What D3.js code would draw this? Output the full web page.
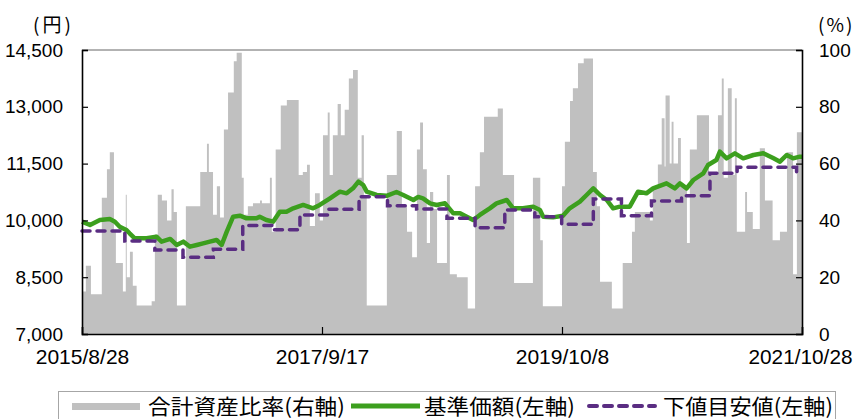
<!DOCTYPE html>
<html>
<head>
<meta charset="utf-8">
<script src="https://cdn.jsdelivr.net/npm/d3@7"></script>
<style>
  body { margin: 0; background: #fff; }
  svg { display: block; }
</style>
</head>
<body>
<div id="chart"></div>
<script>
// 合計資産比率 (%), step values: [date, value from that date]
const ratioSteps = [
  ["2015-08-28",15],["2015-09-09",24],["2015-09-25",14],["2015-10-29",48],["2015-11-14",58],["2015-11-23",64],
  ["2015-12-06",36],["2015-12-12",25],["2016-01-03",15],["2016-01-12",49],["2016-01-15",20],["2016-01-25",29],
  ["2016-02-03",17],["2016-02-15",10],["2016-04-02",11.5],["2016-04-12",35],["2016-04-21",49],["2016-05-04",47],
  ["2016-05-20",40],["2016-06-03",51],["2016-06-10",43],["2016-06-20",10],["2016-07-18",45],["2016-09-01",57],
  ["2016-09-22",67],["2016-09-28",57],["2016-10-11",42],["2016-10-23",52],["2016-11-02",41],["2016-11-14",72],
  ["2016-11-27",85],["2016-12-15",96],["2016-12-24",99],["2017-01-09",55],["2017-01-15",42],["2017-01-28",45],
  ["2017-02-13",46],["2017-03-07",47],["2017-03-13",46],["2017-04-07",55],["2017-04-13",36],["2017-04-25",65],
  ["2017-05-11",80.5],["2017-05-30",82.4],["2017-07-06",56],["2017-07-19",57],["2017-08-01",59.6],["2017-08-10",38],
  ["2017-08-26",49.6],["2017-09-10",40],["2017-09-20",70],["2017-10-05",78],["2017-10-11",56],["2017-10-21",70],
  ["2017-11-05",81],["2017-11-15",70],["2017-11-27",79],["2017-12-10",90],["2017-12-23",93],["2018-01-07",55],
  ["2018-01-19",70],["2018-01-26",48],["2018-02-04",10],["2018-04-08",56],["2018-05-09",71.5],["2018-05-25",45],
  ["2018-06-10",36],["2018-06-26",27],["2018-07-11",65],["2018-07-21",74.5],["2018-07-30",58],["2018-08-11",32],
  ["2018-08-21",50],["2018-08-31",44],["2018-09-12",25],["2018-10-13",56],["2018-10-22",21],["2018-11-13",20],
  ["2018-12-17",9],["2019-01-09",52],["2019-01-24",64],["2019-02-06",76.5],["2019-03-21",79.4],["2019-04-06",56],
  ["2019-05-11",18],["2019-07-09",55],["2019-08-01",33],["2019-08-09",9.8],["2019-10-08",52],["2019-10-17",67.7],
  ["2019-11-02",82],["2019-11-11",86.5],["2019-11-27",95.3],["2019-12-15",97],["2020-01-13",57],["2020-01-25",45],
  ["2020-02-04",18.4],["2020-03-12",9],["2020-04-15",25],["2020-05-14",36],["2020-05-23",43],["2020-07-09",40],
  ["2020-07-18",52],["2020-08-03",59.7],["2020-08-15",76],["2020-08-24",59],["2020-08-27",84],["2020-09-09",60],
  ["2020-09-15",74.7],["2020-09-21",60],["2020-10-05",69],["2020-10-14",52],["2020-11-02",32],["2020-11-11",65],
  ["2020-12-03",77],["2021-01-10",56],["2021-02-07",77],["2021-02-19",90],["2021-02-25",55],["2021-03-10",86.5],
  ["2021-03-22",56],["2021-04-01",83],["2021-04-07",36],["2021-05-03",50],["2021-05-09",43],["2021-05-27",37],
  ["2021-06-18",65.4],["2021-07-04",47],["2021-07-28",33],["2021-08-20",36],["2021-09-11",64],["2021-09-30",21],
  ["2021-10-12",71],["2021-10-28",71]
];

// 基準価額 (円)
const navPoints = [
  ["2015-08-28",9966],["2015-09-22",9879],["2015-10-23",10011],["2015-11-23",10037],["2015-12-09",9966],
  ["2015-12-24",9834],["2016-01-14",9747],["2016-01-24",9659],["2016-02-09",9527],["2016-03-17",9527],
  ["2016-04-17",9571],["2016-05-03",9439],["2016-05-30",9510],["2016-06-19",9351],["2016-07-10",9439],
  ["2016-07-31",9306],["2016-08-21",9351],["2016-09-10",9395],["2016-10-01",9439],["2016-10-22",9483],
  ["2016-11-07",9351],["2016-11-23",9703],["2016-12-13",10099],["2017-01-03",10124],["2017-01-24",10055],
  ["2017-02-24",10055],["2017-03-06",10099],["2017-03-27",10011],["2017-04-17",9966],["2017-05-08",10230],
  ["2017-05-29",10230],["2017-06-19",10319],["2017-07-20",10407],["2017-08-20",10319],["2017-09-10",10407],
  ["2017-10-12",10583],["2017-11-12",10759],["2017-12-03",10715],["2017-12-23",10847],["2018-01-09",11023],
  ["2018-01-24",10935],["2018-02-04",10759],["2018-03-07",10671],["2018-04-07",10650],["2018-05-08",10750],
  ["2018-05-29",10671],["2018-06-30",10539],["2018-07-15",10620],["2018-07-30",10583],["2018-08-21",10451],
  ["2018-09-11",10407],["2018-10-07",10451],["2018-11-02",10187],["2018-11-23",10187],["2018-12-14",10099],
  ["2019-01-03",10011],["2019-01-24",10143],["2019-02-24",10319],["2019-03-17",10451],["2019-04-18",10539],
  ["2019-05-08",10319],["2019-06-08",10319],["2019-07-10",10363],["2019-07-31",10275],["2019-08-10",10099],
  ["2019-09-10",10080],["2019-10-11",10124],["2019-11-01",10319],["2019-12-03",10495],["2019-12-24",10671],
  ["2020-01-14",10847],["2020-02-04",10671],["2020-02-25",10539],["2020-03-16",10319],["2020-04-06",10363],
  ["2020-05-07",10363],["2020-06-02",10759],["2020-06-28",10715],["2020-07-19",10847],["2020-08-30",10979],
  ["2020-09-25",10847],["2020-10-11",10979],["2020-11-01",10847],["2020-11-22",11067],["2020-12-23",11243],
  ["2021-01-07",11463],["2021-02-02",11595],["2021-02-13",11815],["2021-03-06",11639],["2021-04-01",11771],
  ["2021-04-27",11639],["2021-05-29",11727],["2021-06-29",11771],["2021-07-31",11639],["2021-08-20",11551],
  ["2021-09-10",11727],["2021-09-30",11639],["2021-10-21",11683],["2021-10-28",11683]
];

// 下値目安値 (円), step values
const floorSteps = [
  ["2015-08-28",9720],["2016-01-09",9456],["2016-04-12",9218],["2016-07-09",9025],["2016-10-12",9237],
  ["2017-01-12",9866],["2017-04-13",9750],["2017-07-10",10143],["2017-10-06",10293],["2018-01-11",10627],
  ["2018-04-10",10389],["2018-07-10",10300],["2018-10-13",10055],["2019-01-09",9808],["2019-04-12",10275],
  ["2019-07-15",10099],["2019-10-07",9897],["2020-01-14",10565],["2020-04-11",10125],["2020-07-14",10513],
  ["2020-10-16",10653],["2021-01-13",11243],["2021-04-08",11402],["2021-10-11",11270],["2021-10-28",11270]
];

const yenTicks = [7000, 8500, 10000, 11500, 13000, 14500];
const pctTicks = [0, 20, 40, 60, 80, 100];
const dateTicks = ["2015-08-28", "2017-09-17", "2019-10-08", "2021-10-28"];
const seriesNames = ["合計資産比率(右軸)", "基準価額(左軸)", "下値目安値(左軸)"];

const W = 856, H = 419;
const plot = { left: 82, right: 802, top: 50, bottom: 334 };
const parse = d3.timeParse("%Y-%m-%d");
const fmtDate = d3.timeFormat("%Y/%-m/%-d");

const x = d3.scaleTime()
  .domain([parse(dateTicks[0]), parse(dateTicks[dateTicks.length - 1])])
  .range([plot.left, plot.right]);
const yYen = d3.scaleLinear().domain([7000, 14500]).range([plot.bottom, plot.top]);
const yPct = d3.scaleLinear().domain([0, 100]).range([plot.bottom, plot.top]);

const svg = d3.select("#chart").append("svg").attr("width", W).attr("height", H);

// gray area (right axis)
const area = d3.area()
  .curve(d3.curveStepAfter)
  .x(d => x(parse(d[0])))
  .y0(yPct(0))
  .y1(d => yPct(d[1]));
svg.append("path").datum(ratioSteps)
  .attr("d", area)
  .attr("fill", "#c0c0c0");

// NAV line
const navLine = d3.line().x(d => x(parse(d[0]))).y(d => yYen(d[1]));
svg.append("path").datum(navPoints)
  .attr("d", navLine)
  .attr("fill", "none")
  .attr("stroke", "#3c9f1e")
  .attr("stroke-width", 4.5)
  .attr("stroke-linejoin", "round");

// floor step line
const floorLine = d3.line().curve(d3.curveStepAfter).x(d => x(parse(d[0]))).y(d => yYen(d[1]));
svg.append("path").datum(floorSteps)
  .attr("d", floorLine)
  .attr("fill", "none")
  .attr("stroke", "#5a2d82")
  .attr("stroke-width", 3.5)
  .attr("stroke-dasharray", "8,7")
  .attr("stroke-linecap", "round");

// frame
svg.append("line").attr("x1", plot.left).attr("x2", plot.right).attr("y1", plot.top).attr("y2", plot.top)
  .attr("stroke", "#666").attr("stroke-width", 1);

// axes
const axisFont = "'Liberation Sans', Arial, sans-serif";

const gL = svg.append("g").attr("transform", `translate(${plot.left},0)`)
  .call(d3.axisLeft(yYen).tickValues(yenTicks).tickSize(-6).tickPadding(19).tickFormat(d3.format(",")));
const gR = svg.append("g").attr("transform", `translate(${plot.right},0)`)
  .call(d3.axisRight(yPct).tickValues(pctTicks).tickSize(-6).tickPadding(17));
const gB = svg.append("g").attr("transform", `translate(0,${plot.bottom})`)
  .call(d3.axisBottom(x).tickValues(dateTicks.map(parse)).tickSize(-7).tickPadding(15).tickFormat(fmtDate));

[gL, gR, gB].forEach(g => {
  g.select(".domain").attr("stroke", "#000").attr("stroke-width", 1.6);
  g.selectAll(".tick line").attr("stroke", "#000").attr("stroke-width", 1.2);
  g.selectAll(".tick text").attr("fill", "#000").style("font-family", axisFont);
});
gL.selectAll(".tick text").style("font-size", "19px");
gR.selectAll(".tick text").style("font-size", "19px");
// date labels, about 10.4px per character; the last one is pulled in from the edge
gB.selectAll(".tick text").style("font-size", "21px")
  .attr("lengthAdjust", "spacingAndGlyphs")
  .attr("textLength", function () { return this.textContent.length * 10.4; })
  .attr("text-anchor", "start")
  .attr("x", function (d, i) {
    const w = this.textContent.length * 10.4;
    return i === dateTicks.length - 1 ? 852 - plot.right - w : -w / 2;
  });

// unit labels
const cjkFont = "'Noto Sans CJK JP', 'Noto Sans', sans-serif";
svg.append("text").attr("x", 33).attr("y", 32)
  .style("font-family", cjkFont).style("font-size", "19px").style("letter-spacing", "3px").text("(円)");
svg.append("text").attr("x", 818).attr("y", 32)
  .style("font-family", cjkFont).style("font-size", "19px").style("letter-spacing", "2px").text("(%)");

// legend
const legend = svg.append("g").attr("class", "legend");
legend.append("rect")
  .attr("x", 58.5).attr("y", 391.5).attr("width", 777).attr("height", 40)
  .attr("fill", "#fff").attr("stroke", "#a6a6a6");

const legendItems = [
  { key: seriesNames[0], sx: 72, tx: 148, tw: 197 },
  { key: seriesNames[1], sx: 351, tx: 424, tw: 151 },
  { key: seriesNames[2], sx: 589, tx: 663, tw: 170 }
];
legend.append("rect").attr("x", legendItems[0].sx).attr("y", 403).attr("width", 68).attr("height", 7)
  .attr("fill", "#c0c0c0");
legend.append("line").attr("x1", legendItems[1].sx).attr("x2", legendItems[1].sx + 69)
  .attr("y1", 406).attr("y2", 406)
  .attr("stroke", "#3c9f1e").attr("stroke-width", 5);
legend.append("line").attr("x1", legendItems[2].sx).attr("x2", legendItems[2].sx + 66)
  .attr("y1", 406).attr("y2", 406)
  .attr("stroke", "#5a2d82").attr("stroke-width", 4)
  .attr("stroke-dasharray", "8,7").attr("stroke-linecap", "round");

legend.selectAll(".legendText")
  .data(legendItems)
  .enter()
  .append("text")
  .attr("class", "legendText")
  .attr("x", d => d.tx)
  .attr("y", 414)
  .attr("textLength", d => d.tw)
  .attr("lengthAdjust", "spacingAndGlyphs")
  .style("font-family", cjkFont)
  .style("font-size", "21px")
  .attr("fill", "#000")
  .text(d => d.key);
</script>
</body>
</html>
